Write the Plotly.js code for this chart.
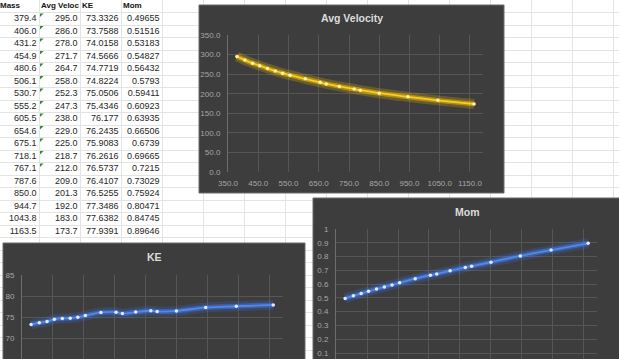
<!DOCTYPE html>
<html>
<head>
<meta charset="utf-8">
<script src="https://cdn.plot.ly/plotly-3.0.1.min.js"></script>
<style>html,body{margin:0;padding:0;background:#fff;}#chart{width:619px;height:359px;}</style>
</head>
<body>
<div id="chart"></div>
<script>
// ---- data read from the spreadsheet ----
const headers = ['Mass', 'Avg Veloc', 'KE', 'Mom'];
const mass = [379.4, 406.0, 431.2, 454.9, 480.6, 506.1, 530.7, 555.2, 605.5, 654.6, 675.1, 718.1, 767.1, 787.6, 850.0, 944.7, 1043.8, 1163.5];
const avgVelocity = [295.0, 286.0, 278.0, 271.7, 264.7, 258.0, 252.3, 247.3, 238.0, 229.0, 225.0, 218.7, 212.0, 209.0, 201.3, 192.0, 183.0, 173.7];
const ke = [73.3326, 73.7588, 74.0158, 74.5666, 74.7719, 74.8224, 75.0506, 75.4346, 76.177, 76.2435, 75.9083, 76.2616, 76.5737, 76.4107, 76.5255, 77.3486, 77.6382, 77.9391];
const mom = [0.49655, 0.51516, 0.53183, 0.54827, 0.56432, 0.5793, 0.59411, 0.60923, 0.63935, 0.66506, 0.6739, 0.69665, 0.7215, 0.73029, 0.75924, 0.80471, 0.84745, 0.89646];
const textFlagRows = 13; // rows whose "Avg Veloc" cell shows the green corner marker
const chartTitles = ['Avg Velocity', 'KE', 'Mom'];

// ---- sheet geometry (pixels) ----
const W = 619, H = 359;
const colW = 41, firstColRight = 39, rowH = 12.5;
const colLeft = c => firstColRight + (c - 1) * colW;
const colRight = c => firstColRight + c * colW;
const rowMid = r => (r + 0.5) * rowH; // r=0 header

const FONT = 'Liberation Sans, Arial, sans-serif';
const traces = [];

// header text
traces.push({
  x: headers.map((h, c) => colLeft(c) + 2), y: headers.map(() => rowMid(0)),
  text: headers.map(h => '<b>' + h + '</b>'), mode: 'text', textposition: 'middle right',
  textfont: {family: FONT, size: 8, color: '#111'}, xaxis: 'x', yaxis: 'y', hoverinfo: 'skip', cliponaxis: false
});
const cols = [mass.map(v => v.toFixed(1)), avgVelocity.map(v => v.toFixed(1)), ke.map(v => String(v)), mom.map(v => String(v))];
cols.forEach((vals, c) => {
  traces.push({
    x: vals.map(() => colRight(c) - 2.5), y: vals.map((v, i) => rowMid(i + 1)),
    text: vals, mode: 'text', textposition: 'middle left',
    textfont: {family: FONT, size: 9, color: '#262626'}, xaxis: 'x', yaxis: 'y', hoverinfo: 'skip', cliponaxis: false
  });
});
// green "number stored as text" corner markers
traces.push({
  x: avgVelocity.slice(0, textFlagRows).map(() => colLeft(1) + 2.2),
  y: avgVelocity.slice(0, textFlagRows).map((v, i) => (i + 1) * rowH + 2.2),
  mode: 'markers', marker: {symbol: 'triangle-nw', size: 4, color: '#2e8b3a', line: {width: 0}},
  xaxis: 'x', yaxis: 'y', hoverinfo: 'skip'
});

function glowLine(xs, ys, xa, ya, core, glow1, glow2, dot) {
  return [
    {x: xs, y: ys, mode: 'lines', line: {color: glow1, width: 10, shape: 'spline'}, xaxis: xa, yaxis: ya, hoverinfo: 'skip'},
    {x: xs, y: ys, mode: 'lines', line: {color: glow2, width: 5, shape: 'spline'}, xaxis: xa, yaxis: ya, hoverinfo: 'skip'},
    {x: xs, y: ys, mode: 'lines+markers', line: {color: core, width: 1.8, shape: 'spline'},
     marker: {size: 3.5, color: dot}, xaxis: xa, yaxis: ya}
  ];
}
traces.push(...glowLine(mass, avgVelocity, 'x2', 'y2', '#ffcc1a', 'rgba(255,200,0,0.22)', 'rgba(255,205,0,0.45)', '#fff3a6'));
traces.push(...glowLine(mass, ke, 'x3', 'y3', '#4d8af0', 'rgba(60,110,230,0.22)', 'rgba(70,125,240,0.45)', '#dfe9ff'));
traces.push(...glowLine(mass, mom, 'x4', 'y4', '#4d8af0', 'rgba(60,110,230,0.22)', 'rgba(70,125,240,0.45)', '#dfe9ff'));

const px = v => v / W, py = v => 1 - v / H;
const tickFont = {family: FONT, size: 8, color: '#a6a6a6'};
const grid = '#565656';
function xAx(d0, d1, anchor, rng, labels) {
  return {domain: [px(d0), px(d1)], anchor: anchor, range: rng, tick0: 350, dtick: 100, tickformat: '.1f',
    showgrid: true, gridcolor: grid, gridwidth: 1, zeroline: false, showline: false, ticks: '',
    showticklabels: labels, tickfont: tickFont, ticklabelstandoff: 5, fixedrange: true};
}
function yAx(top, bottom, anchor, rng, dtick, fmt) {
  return {domain: [py(bottom), py(top)], anchor: anchor, range: rng, dtick: dtick, tick0: 0, tickformat: fmt,
    showgrid: true, gridcolor: grid, gridwidth: 1, zeroline: false, showline: true, linecolor: '#6e6e6e', linewidth: 1,
    ticks: '', tickfont: tickFont, ticklabelstandoff: 5, fixedrange: true};
}

const boxFill = '#3d3d3d';
const layout = {
  width: W, height: H, margin: {l: 0, r: 0, t: 0, b: 0},
  paper_bgcolor: '#ffffff', plot_bgcolor: 'rgba(0,0,0,0)', showlegend: false,
  xaxis: {domain: [0, 1], range: [0, W], tick0: firstColRight, dtick: colW, showgrid: true, gridcolor: '#e3e3e3',
    showticklabels: false, zeroline: false, ticks: '', fixedrange: true},
  yaxis: {domain: [0, 1], range: [H, 0], tick0: 0, dtick: rowH, showgrid: true, gridcolor: '#e3e3e3',
    showticklabels: false, zeroline: false, ticks: '', fixedrange: true},
  xaxis2: xAx(228, 483, 'y2', [350, 1193], true),
  yaxis2: yAx(35, 172, 'x2', [0, 350], 50, '.1f'),
  xaxis3: xAx(22, 283, 'y3', [350, 1195], false),
  yaxis3: yAx(275, 359, 'x3', [65.2, 85], 5, 'd'),
  xaxis4: xAx(336, 597, 'y4', [350, 1192], false),
  yaxis4: yAx(229, 359, 'x4', [0.0566, 1], 0.1, ''),
  shapes: [
    {type: 'rect', xref: 'x', yref: 'y', x0: 199, x1: 504, y0: 5, y1: 193, fillcolor: boxFill, line: {color: '#6b6b6b', width: 1}, layer: 'between'},
    {type: 'rect', xref: 'x', yref: 'y', x0: 3, x1: 305, y0: 243, y1: 380, fillcolor: boxFill, line: {color: '#6b6b6b', width: 1}, layer: 'between'},
    {type: 'rect', xref: 'x', yref: 'y', x0: 313, x1: 640, y0: 198, y1: 380, fillcolor: boxFill, line: {color: '#6b6b6b', width: 1}, layer: 'between'}
  ],
  annotations: [
    {text: '<b>' + chartTitles[0] + '</b>', xref: 'x', yref: 'y', x: 351.5, y: 18, showarrow: false, font: {family: FONT, size: 10.5, color: '#dcdcdc'}},
    {text: '<b>' + chartTitles[1] + '</b>', xref: 'x', yref: 'y', x: 154, y: 257, showarrow: false, font: {family: FONT, size: 10.5, color: '#dcdcdc'}},
    {text: '<b>' + chartTitles[2] + '</b>', xref: 'x', yref: 'y', x: 467, y: 212, showarrow: false, font: {family: FONT, size: 10.5, color: '#dcdcdc'}}
  ]
};

Plotly.newPlot('chart', traces, layout, {displayModeBar: false, staticPlot: true});
</script>
</body>
</html>
